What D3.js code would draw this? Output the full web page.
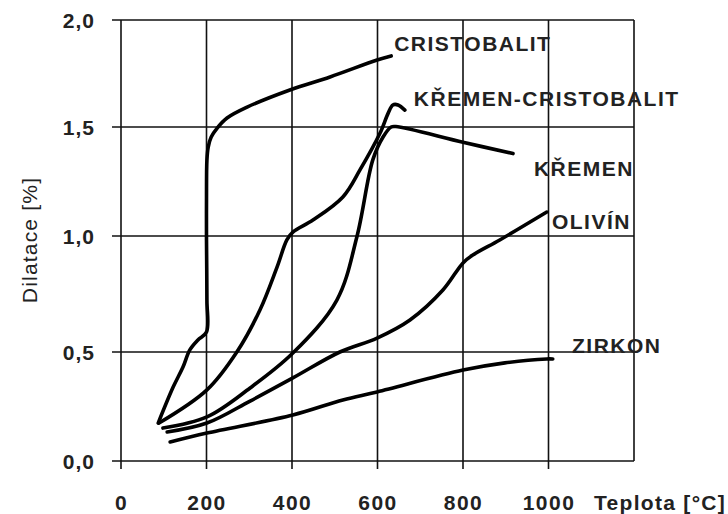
<!DOCTYPE html>
<html>
<head>
<meta charset="utf-8">
<script src="https://cdn.jsdelivr.net/npm/d3@7"></script>
<style>
  html, body { margin: 0; padding: 0; background: #fff; }
  svg { display: block; }
  text { font-family: "Liberation Sans", Arial, sans-serif; fill: #222; }
</style>
</head>
<body>
<svg id="chart" width="728" height="514"></svg>
<script>
// ---- data (temperature °C, dilatation %) ----
const xTicks = [0, 200, 400, 600, 800, 1000];
const xTickLabels = ["0", "200", "400", "600", "800", "1000"];
const yTicks = [0, 0.5, 1.0, 1.5, 2.0];
const yTickLabels = ["0,0", "0,5", "1,0", "1,5", "2,0"];
const xGrid = [0, 200, 400, 600, 800, 1000, 1200];

const cristobalit = [
  [87, 0.174], [122, 0.339], [145, 0.431], [161, 0.509], [180, 0.552], [200, 0.586],
  [201, 0.724], [200, 0.983], [200, 1.165], [201, 1.349], [204, 1.408], [211, 1.454],
  [225, 1.495], [248, 1.542], [295, 1.593], [395, 1.673], [489, 1.734], [599, 1.813], [632, 1.832]
];
const kremenCristobalit = [
  [89, 0.174], [201, 0.326], [271, 0.500], [325, 0.681], [365, 0.866], [388, 0.983],
  [402, 1.018], [449, 1.073], [519, 1.179], [559, 1.303], [606, 1.472], [625, 1.565],
  [636, 1.603], [648, 1.603], [664, 1.579]
];
const kremen = [
  [98, 0.151], [201, 0.202], [302, 0.335], [402, 0.495], [505, 0.724], [552, 0.998],
  [589, 1.349], [613, 1.454], [632, 1.500], [643, 1.502], [800, 1.430], [917, 1.378]
];
const olivin = [
  [108, 0.133], [201, 0.174], [302, 0.275], [402, 0.381], [512, 0.500], [599, 0.560],
  [676, 0.638], [753, 0.767], [800, 0.884], [823, 0.918], [886, 0.983], [996, 1.110]
];
const zirkon = [
  [115, 0.087], [201, 0.128], [402, 0.211], [519, 0.280], [599, 0.317], [800, 0.417],
  [898, 0.450], [996, 0.468], [1010, 0.468]
];
const series = [cristobalit, kremenCristobalit, kremen, olivin, zirkon];

const seriesNames = ["CRISTOBALIT", "KŘEMEN-CRISTOBALIT", "KŘEMEN", "OLIVÍN", "ZIRKON"];
const labelAnchors = [[639, 1.855], [685, 1.598], [966, 1.275], [1008, 1.032], [1055, 0.495]];

const xTitle = "Teplota [°C]";
const yTitle = "Dilatace [%]";

// ---- layout ----
const svg = d3.select("#chart");
const x = d3.scaleLinear().domain([0, 1200]).range([121, 634]);
const y = d3.scaleLinear().domain([0, 0.5, 1.0, 1.5, 2.0]).range([461, 352, 236, 127, 20]);

const g = svg.append("g");

// horizontal grid lines (extend left as ticks)
g.selectAll("line.hgrid").data(yTicks).join("line")
  .attr("x1", x(0) - 9).attr("x2", x(1200))
  .attr("y1", d => y(d)).attr("y2", d => y(d))
  .attr("stroke", "#111").attr("stroke-width", 1.6);

// vertical grid lines
g.selectAll("line.vgrid").data(xGrid).join("line")
  .attr("x1", d => x(d)).attr("x2", d => x(d))
  .attr("y1", y(2)).attr("y2", d => d <= 1000 ? y(0) + 8 : y(0))
  .attr("stroke", "#111").attr("stroke-width", 1.6);

// x axis labels via d3 axis
const xAxis = d3.axisBottom(x).tickValues(xTicks)
  .tickFormat((d, i) => xTickLabels[i]).tickSize(0).tickPadding(0);
const xa = g.append("g").attr("transform", `translate(0,${y(0)})`).call(xAxis);
xa.select(".domain").remove();
xa.selectAll("text")
  .attr("y", 49).attr("dy", null)
  .style("font-size", "21px").style("font-weight", "bold")
  .style("letter-spacing", "1.5px").attr("fill", "#222");

// y axis labels via d3 axis
const yAxis = d3.axisLeft(y).tickValues(yTicks)
  .tickFormat((d, i) => yTickLabels[i]).tickSize(0).tickPadding(26);
const ya = g.append("g").attr("transform", `translate(${x(0)},0)`).call(yAxis);
ya.select(".domain").remove();
ya.selectAll("text")
  .attr("dy", "0.36em")
  .style("font-size", "21px").style("font-weight", "bold")
  .style("letter-spacing", "1px").attr("fill", "#222");

// axis titles
svg.append("text")
  .attr("x", 594).attr("y", 510)
  .style("font-size", "21px").style("font-weight", "bold").style("letter-spacing", "1.3px")
  .text(xTitle);

svg.append("text")
  .attr("transform", "translate(37,240) rotate(-90)")
  .attr("text-anchor", "middle")
  .style("font-size", "21px").style("letter-spacing", "1.2px")
  .text(yTitle);

// curves
const line = d3.line().x(d => x(d[0])).y(d => y(d[1])).curve(d3.curveCatmullRom.alpha(0.5));
g.selectAll("path.curve").data(series).join("path")
  .attr("d", line)
  .attr("fill", "none").attr("stroke", "#000")
  .attr("stroke-width", 3.6).attr("stroke-linecap", "round").attr("stroke-linejoin", "round");

// curve labels
svg.selectAll("text.lbl").data(seriesNames).join("text")
  .attr("x", (d, i) => x(labelAnchors[i][0]))
  .attr("y", (d, i) => y(labelAnchors[i][1]))
  .style("font-size", "21px").style("font-weight", "bold").style("letter-spacing", "1.5px")
  .text(d => d);
</script>
</body>
</html>
